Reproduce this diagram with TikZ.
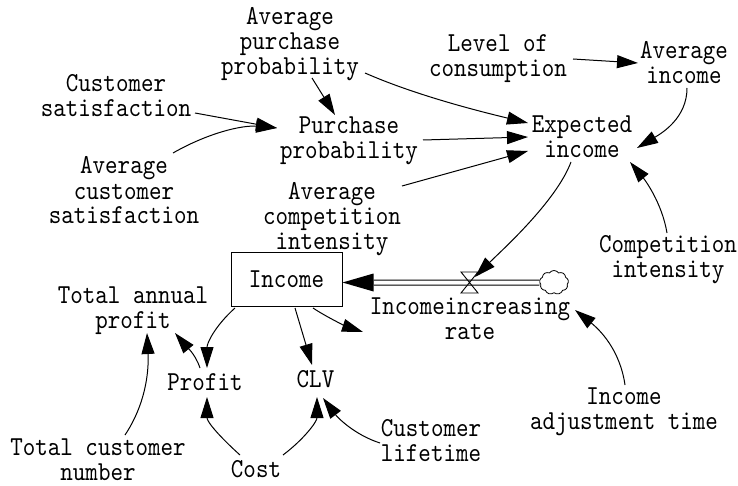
\documentclass[tikz,border=0pt]{standalone}
\usepackage{fontspec}
\usetikzlibrary{arrows.meta,shapes.symbols}
\newfontfamily\dmono{lmmono10-regular.otf}[FakeStretch=0.87]
\tikzset{
  lbl/.style={font=\dmono\fontsize{27.4}{25}\selectfont, align=center, inner sep=0pt},
  lk/.style={draw, line width=1pt, -{Triangle[length=21pt,width=13pt]}},
  pipe/.style={line width=1pt, double distance=4pt},
}
\begin{document}
\begin{tikzpicture}[x=1pt,y=-1pt]
\useasboundingbox (0,0) rectangle (738,486);
\fill[white] (0,0) rectangle (738,486);
% nodes
\node[lbl] (apb) at (290,45) {\strut Average\\\strut purchase\\\strut probability};
\node[lbl] (cs) at (116,99.5) {\strut Customer\\\strut satisfaction};
\node[lbl] (pp) at (349,141.5) {\strut Purchase\\\strut probability};
\node[lbl] (acs) at (124,194) {\strut Average\\\strut customer\\\strut satisfaction};
\node[lbl] (aci) at (332,219) {\strut Average\\\strut competition\\\strut intensity};
\node[lbl] (loc) at (498,59.5) {\strut Level of\\\strut consumption};
\node[lbl] (ai) at (684,66.5) {\strut Average\\\strut income};
\node[lbl] (ei) at (582,140.5) {\strut Expected\\\strut income};
\node[lbl] (ci) at (668,259.5) {\strut Competition\\\strut intensity};
\node[lbl, draw, line width=1pt, minimum width=111pt, minimum height=54pt] (box) at (286.5,279) {Income};
\node[lbl] (tap) at (133,310.5) {\strut Total annual\\\strut profit};
\node[lbl] (profit) at (205,385) {\strut Profit};
\node[lbl] (clv) at (315.5,382) {\strut CLV};
\node[lbl] (cost) at (256,472) {\strut Cost};
\node[lbl] (tcn) at (98,462.5) {\strut Total customer\\\strut number};
\node[lbl] (cl) at (431,444) {\strut Customer\\\strut lifetime};
\node[lbl] (iir) at (470,322) {\strut Incomeincreasing\\\strut rate};
\node[lbl] (iat) at (624,411.5) {\strut Income\\\strut adjustment time};
\node[cloud, draw, line width=0.8pt, cloud puffs=9, cloud puff arc=110, aspect=1.2, inner sep=0pt, minimum width=29pt, minimum height=24pt] (src) at (554,282.5) {};
\coordinate (valve) at (469,282.5);
% flow
\draw[pipe] (src.west) -- ([shift={(31,3.5)}]box.east);
\fill ([shift={(0,3.5)}]box.east) -- ([shift={(31,-5.5)}]box.east) -- ([shift={(31,12.5)}]box.east) -- cycle;
\draw[line width=0.9pt] ([shift={(-8,-10.5)}]valve) -- ([shift={(9,-10.5)}]valve) -- ([shift={(-8,10.5)}]valve) -- ([shift={(9,10.5)}]valve) -- cycle;
% links
\draw[lk] ([shift={(22,33)}]apb.center) -- ([shift={(-14,-26.5)}]pp.center);
\draw[lk] ([shift={(79,13.5)}]cs.center) -- ([shift={(-72,-13.5)}]pp.center);
\draw[lk] ([shift={(49,-41)}]acs.center) .. controls +(35,-20) and +(-35,-3) .. ([shift={(-72,-13.5)}]pp.center);
\draw[lk] ([shift={(75,28)}]apb.center) .. controls +(50,22) and +(-50,-12) .. ([shift={(-54,-17.5)}]ei.center);
\draw[lk] ([shift={(74,-1.5)}]pp.center) -- ([shift={(-54,-3.5)}]ei.center);
\draw[lk] ([shift={(70,-33)}]aci.center) -- ([shift={(-54,10.5)}]ei.center);
\draw[lk] ([shift={(75,-0.5)}]loc.center) -- ([shift={(-46,-3.5)}]ai.center);
\draw[lk] ([shift={(3,21.5)}]ai.center) .. controls +(0,30) and +(25,-15) .. ([shift={(55,7.5)}]ei.center);
\draw[lk] ([shift={(-1,-26.5)}]ci.center) .. controls +(-5,-30) and +(15,18) .. ([shift={(48,21.5)}]ei.center);
\draw[lk] ([shift={(-11,21.5)}]ei.center) .. controls +(-15,40) and +(25,-25) .. ([shift={(6,-5.5)}]valve);
\draw[lk] ([shift={(-51.5,29)}]box.center) .. controls +(-20,18) and +(0,-25) .. ([shift={(2,-17)}]profit.center);
\draw[lk] ([shift={(8.5,29)}]box.center) -- ([shift={(-3.5,-17)}]clv.center);
\draw[lk] ([shift={(26.5,29)}]box.center) .. controls +(15,10) and +(-15,-5) .. ([shift={(-107,10)}]iir.center);
\draw[lk] ([shift={(-5,-17)}]profit.center) .. controls +(-5,-15) and +(10,12) .. ([shift={(42,22.5)}]tap.center);
\draw[lk] ([shift={(27,-27.5)}]tcn.center) .. controls +(20,-30) and +(2,40) .. ([shift={(14,22.5)}]tap.center);
\draw[lk] ([shift={(-16,-17)}]cost.center) .. controls +(-20,-18) and +(0,25) .. ([shift={(2,12)}]profit.center);
\draw[lk] ([shift={(27,-17)}]cost.center) .. controls +(20,-15) and +(0,25) .. ([shift={(1.5,15)}]clv.center);
\draw[lk] ([shift={(-51,-1)}]cl.center) .. controls +(-25,-8) and +(15,20) .. ([shift={(7.5,16)}]clv.center);
\draw[lk] ([shift={(1,-26.5)}]iat.center) .. controls +(-5,-35) and +(25,20) .. ([shift={(105,-12)}]iir.center);
\end{tikzpicture}
\end{document}
